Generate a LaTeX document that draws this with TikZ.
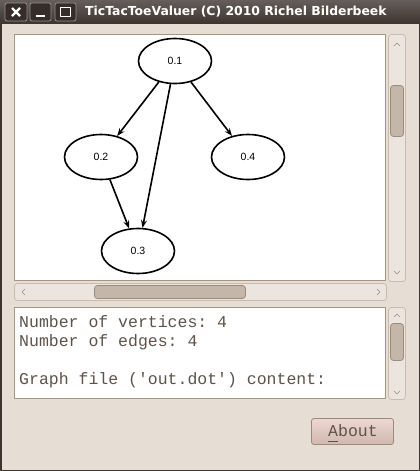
\documentclass[tikz,border=0pt]{standalone}
\usepackage{fontspec}
\setmonofont{Liberation Mono}
\newfontfamily\titlefont{DejaVu Sans}
\newfontfamily\graphfont{Liberation Sans}
\usetikzlibrary{shapes.geometric,arrows.meta,positioning}
\definecolor{winbg}{HTML}{E6DED4}
\definecolor{titlebg}{HTML}{3F3530}
\definecolor{framec}{HTML}{A8957F}
\definecolor{troughc}{HTML}{ECE5DF}
\definecolor{troughb}{HTML}{C9BCAF}
\definecolor{thumbc}{HTML}{C4B6A9}
\definecolor{thumbb}{HTML}{9C8A7A}
\definecolor{textc}{HTML}{5E534B}
\tikzset{>={Stealth[length=8pt,width=6pt,inset=3pt]}}
\tikzset{
  vertex/.style={ellipse, draw, line width=1.6pt, minimum width=73pt,
    minimum height=45pt, inner sep=0pt, font=\graphfont\fontsize{10.5}{12}\selectfont},
  trough/.style={draw=troughb, fill=troughc, rounded corners=3pt, line width=0.8pt},
  thumb/.style={draw=thumbb, fill=thumbc, rounded corners=3pt, line width=0.8pt},
  tbutton/.style={draw=white!45!titlebg, fill=titlebg!85!black, rounded corners=2pt, line width=0.8pt},
  monotext/.style={anchor=base west, inner sep=0pt, text=textc,
    font=\ttfamily\fontsize{16.5}{19}\selectfont},
  scrollarrow/.style={draw=thumbb, line width=0.6pt}
}

\begin{document}
\begin{tikzpicture}[x=1pt, y=-1pt, line join=round]
      \useasboundingbox (0,0) rectangle (420,471);
      % window
      \fill[winbg] (0,0) rectangle (420,471);
      \draw[titlebg, line width=1.5pt] (0.75,0) -- (0.75,470.25) -- (419.25,470.25) -- (419.25,0);
      \shade[top color=titlebg!80!white, bottom color=titlebg] (0,0) rectangle (420,23);
      \draw[tbutton] (5,3) rectangle (27,21);
      \draw[tbutton] (30,3) rectangle (51,21);
      \draw[tbutton] (55,3) rectangle (76,21);
      \draw[white, line width=2.2pt] (12,8) -- (20,16) (12,16) -- (20,8);
      \draw[white, line width=2.2pt] (36,16) -- (45,16);
      \draw[white, line width=1.5pt] (60.5,7.5) rectangle (70.5,16.5);
      \node[anchor=west, inner sep=0pt, text=white, font=\titlefont\bfseries\fontsize{12.4}{14}\selectfont]
        (title) at (85,11.5) {TicTacToeValuer (C) 2010 Richel Bilderbeek};
      % graph canvas
      \draw[framec, fill=white, line width=1pt] (14.5,34.5) rectangle (385.5,280.5);
      \draw[trough] (388.5,34.5) rectangle (405.5,281.5);
      \draw[thumb] (390.5,85.5) rectangle (403.5,136.5);
      \draw[scrollarrow] (394,46) -- (397,43) -- (400,46);
      \draw[scrollarrow] (394,271) -- (397,274) -- (400,271);
      \draw[trough] (14.5,283.5) rectangle (386.5,300.5);
      \draw[thumb] (94.5,285.5) rectangle (245.5,298.5);
      \draw[scrollarrow] (25,289) -- (22,292) -- (25,295);
      \draw[scrollarrow] (377,289) -- (380,292) -- (377,295);
      % graph
      \node[vertex] (v1) at (175,61) {0.1};
      \node[vertex] (v2) at (101,157) {0.2};
      \node[vertex] (v4) at (248,157) {0.4};
      \node[vertex] (v3) at (138,251) {0.3};
      \path[->, line width=1.6pt] (v1) edge (v2)
                (v1) edge (v3)
                (v1) edge (v4)
                (v2) edge (v3);
      % output text
      \draw[framec, fill=white, line width=1pt] (14.5,307.5) rectangle (385.5,398.5);
      \draw[trough] (388.5,307.5) rectangle (405.5,399.5);
      \draw[thumb] (390.5,323.5) rectangle (403.5,360.5);
      \draw[scrollarrow] (394,317) -- (397,314) -- (400,317);
      \draw[scrollarrow] (394,391) -- (397,394) -- (400,391);
      \node[monotext] (line1) at (19,327) {Number of vertices: 4};
      \node[monotext] (line2) at (19,346) {Number of edges: 4};
      \node[monotext] (line3) at (19,384) {Graph file ('out.dot') content:};
      % about button
      \draw[draw=thumbb, top color=white!60!thumbc!70!pink, bottom color=thumbc!80!pink,
        rounded corners=2.5pt, line width=0.8pt] (311.5,418.5) rectangle (393.5,444.5);
      \node[monotext] (about) at (328,436) {About};
      \draw[textc, line width=1pt] (328,441.5) -- (338,441.5);
\end{tikzpicture}
\end{document}
